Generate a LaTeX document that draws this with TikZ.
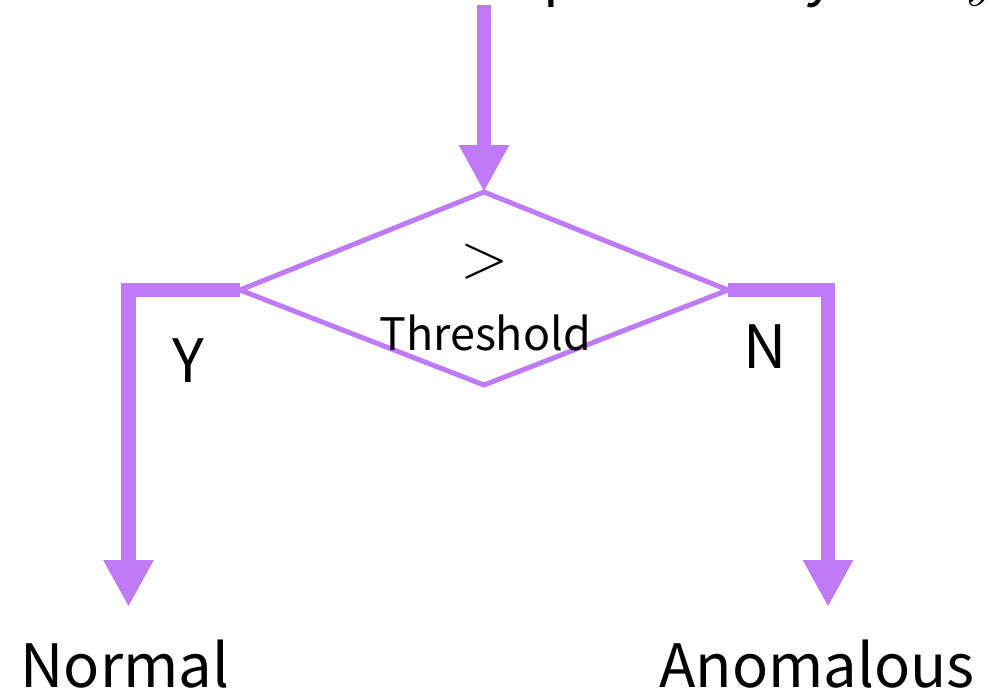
\documentclass[tikz,border=0pt]{standalone}
\usepackage{fontspec}
\setmainfont{Noto Sans CJK SC}
\newfontfamily\lmrfam{Latin Modern Roman}
\usetikzlibrary{arrows.meta}
\definecolor{vio}{RGB}{191,122,246}
\tikzset{
  flow/.style={draw=vio, line width=0.29cm, line join=miter,
    -{Triangle[length=0.94cm, width=0.94cm, fill=vio]}},
  dia/.style={draw=vio, line width=0.1cm, line join=miter},
  big/.style={font=\fontsize{34pt}{40pt}\selectfont, text=black, inner sep=0pt},
  mid/.style={font=\fontsize{25.5pt}{30pt}\selectfont, text=black, inner sep=0pt}
}
\begin{document}
\begin{tikzpicture}[x=0.02cm, y=-0.02cm]
\useasboundingbox (0,0) rectangle (1000,693);
% top (cut-off) caption
\node[text=black, inner sep=0pt, font=\fontsize{32.5pt}{38pt}\selectfont, anchor=base west] (cap) at (543,-6) {probability};
\node[big, anchor=base east] (cap2) at (992,-6) {of {\lmrfam\itshape y}};
% diamond
\coordinate (dt) at (484,192);
\coordinate (dr) at (728,290);
\coordinate (db) at (484,385);
\coordinate (dl) at (240,290);
\draw[dia] (dt) -- (dr) -- (db) -- (dl) -- cycle;
% arrows
\coordinate (src) at (484,5);
\coordinate (yend) at (128.5,607);
\coordinate (nend) at (828,607);
\draw[flow] (src) -- (dt);
\draw[flow] (dl) -| (yend);
\draw[flow] (dr) -| (nend);
% labels
\node[text=black, inner sep=0pt, font=\fontsize{36pt}{42pt}\selectfont\lmrfam] (gt) at (485,262) {>};
\node[mid, anchor=base] (thr) at (485,350) {Threshold};
\node[big, anchor=base] (ylab) at (188,382) {Y};
\node[big, anchor=base] (nlab) at (765,368) {N};
\node[big, anchor=base] (normal) at (125,687) {Normal};
\node[big, anchor=base] (anom) at (817,687) {Anomalous};
\end{tikzpicture}
\end{document}
